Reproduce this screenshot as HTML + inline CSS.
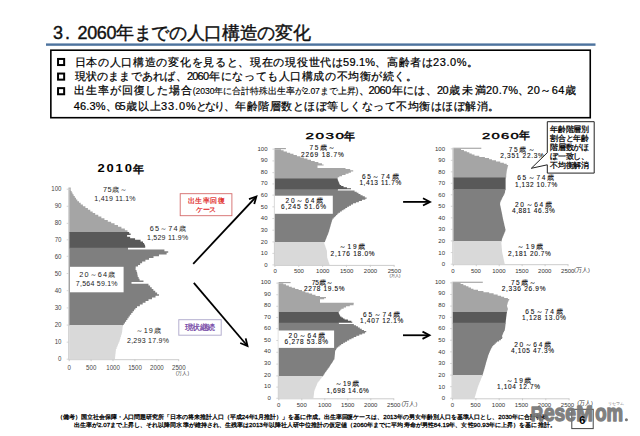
<!DOCTYPE html>
<html><head><meta charset="utf-8"><style>
html,body{margin:0;padding:0;background:#fff;}
body{width:640px;height:436px;overflow:hidden;position:relative;}
svg{position:absolute;left:0;top:0;font-family:"Liberation Sans", sans-serif;}
</style></head><body>
<svg width="640" height="436" viewBox="0 0 640 436">
<path d="M69.20,232.80L127.49,232.80L127.49,231.90L127.49,231.90L127.49,230.19L124.86,230.19L124.86,228.48L121.41,228.48L121.41,226.78L117.96,226.78L117.96,225.07L114.55,225.07L114.55,223.36L111.16,223.36L111.16,221.65L107.78,221.65L107.78,219.95L104.44,219.95L104.44,218.24L101.36,218.24L101.36,216.53L98.27,216.53L98.27,214.82L95.19,214.82L95.19,213.12L92.68,213.12L92.68,211.41L90.28,211.41L90.28,209.70L87.89,209.70L87.89,207.99L85.42,207.99L85.42,206.28L82.88,206.28L82.88,204.58L80.72,204.58L80.72,202.87L79.02,202.87L79.02,201.16L77.31,201.16L77.31,199.45L75.99,199.45L75.99,197.75L74.79,197.75L74.79,196.04L73.59,196.04L73.59,194.33L72.53,194.33L72.53,192.62L71.66,192.62L71.66,190.92L70.79,190.92L70.79,189.21L69.20,189.21Z" fill="#a5a5a5"/>
<path d="M69.20,248.60L128.00,248.60L128.00,247.70L145.23,247.70L145.23,246.12L145.05,246.12L145.05,244.54L144.12,244.54L144.12,242.96L143.03,242.96L143.03,241.38L140.55,241.38L140.55,239.80L135.06,239.80L135.06,238.22L130.15,238.22L130.15,236.64L127.11,236.64L127.11,235.06L130.64,235.06L130.64,233.48L129.17,233.48L129.17,231.90L69.20,231.90Z" fill="#595959"/>
<path d="M69.20,326.00L122.83,326.00L122.83,325.10L123.74,325.10L123.74,323.38L124.96,323.38L124.96,321.66L126.17,321.66L126.17,319.94L127.38,319.94L127.38,318.22L128.60,318.22L128.60,316.50L129.83,316.50L129.83,314.78L131.23,314.78L131.23,313.06L132.62,313.06L132.62,311.34L134.02,311.34L134.02,309.62L135.41,309.62L135.41,307.90L137.03,307.90L137.03,306.18L139.86,306.18L139.86,304.46L142.69,304.46L142.69,302.74L145.53,302.74L145.53,301.02L148.49,301.02L148.49,299.30L151.99,299.30L151.99,297.58L155.50,297.58L155.50,295.86L159.00,295.86L159.00,294.14L157.11,294.14L157.11,292.42L155.22,292.42L155.22,290.70L153.35,290.70L153.35,288.98L151.72,288.98L151.72,287.26L150.09,287.26L150.09,285.54L148.46,285.54L148.46,283.82L131.50,283.82L131.50,282.10L143.47,282.10L143.47,280.38L139.55,280.38L139.55,278.66L138.65,278.66L138.65,276.94L137.74,276.94L137.74,275.22L137.41,275.22L137.41,273.50L137.11,273.50L137.11,271.78L136.46,271.78L136.46,270.06L135.60,270.06L135.60,268.34L135.69,268.34L135.69,266.62L137.99,266.62L137.99,264.90L140.12,264.90L140.12,263.18L142.13,263.18L142.13,261.46L145.40,261.46L145.40,259.74L148.97,259.74L148.97,258.02L153.49,258.02L153.49,256.30L158.99,256.30L158.99,254.58L166.62,254.58L166.62,252.86L168.20,252.86L168.20,251.14L164.42,251.14L164.42,249.42L128.00,249.42L128.00,247.70L69.20,247.70Z" fill="#7f7f7f"/>
<path d="M69.20,359.20L115.00,359.20L115.00,357.50L115.18,357.50L115.18,355.79L115.36,355.79L115.36,354.08L115.54,354.08L115.54,352.38L115.72,352.38L115.72,350.68L115.90,350.68L115.90,348.97L116.59,348.97L116.59,347.26L117.29,347.26L117.29,345.56L118.00,345.56L118.00,343.86L118.70,343.86L118.70,342.15L119.40,342.15L119.40,340.44L119.92,340.44L119.92,338.74L120.44,338.74L120.44,337.04L120.97,337.04L120.97,335.33L121.49,335.33L121.49,333.62L122.00,333.62L122.00,331.92L122.20,331.92L122.20,330.22L122.40,330.22L122.40,328.51L122.60,328.51L122.60,326.81L122.83,326.81L122.83,325.10L69.20,325.10Z" fill="#d9d9d9"/>
<rect x="69.2" y="187.50" width="1.5" height="1.71" fill="#a5a5a5"/>
<line x1="68.70" y1="187.50" x2="68.70" y2="359.70" stroke="#cccccc" stroke-width="1"/>
<line x1="68.70" y1="359.70" x2="178.70" y2="359.70" stroke="#cccccc" stroke-width="1"/>
<line x1="69.20" y1="359.20" x2="69.20" y2="361.20" stroke="#cccccc" stroke-width="1"/>
<line x1="91.10" y1="359.20" x2="91.10" y2="361.20" stroke="#cccccc" stroke-width="1"/>
<line x1="113.00" y1="359.20" x2="113.00" y2="361.20" stroke="#cccccc" stroke-width="1"/>
<line x1="134.90" y1="359.20" x2="134.90" y2="361.20" stroke="#cccccc" stroke-width="1"/>
<line x1="156.80" y1="359.20" x2="156.80" y2="361.20" stroke="#cccccc" stroke-width="1"/>
<line x1="178.70" y1="359.20" x2="178.70" y2="361.20" stroke="#cccccc" stroke-width="1"/>
<line x1="66.70" y1="359.20" x2="68.70" y2="359.20" stroke="#cccccc" stroke-width="0.8"/>
<line x1="66.70" y1="342.15" x2="68.70" y2="342.15" stroke="#cccccc" stroke-width="0.8"/>
<line x1="66.70" y1="325.10" x2="68.70" y2="325.10" stroke="#cccccc" stroke-width="0.8"/>
<line x1="66.70" y1="307.90" x2="68.70" y2="307.90" stroke="#cccccc" stroke-width="0.8"/>
<line x1="66.70" y1="290.70" x2="68.70" y2="290.70" stroke="#cccccc" stroke-width="0.8"/>
<line x1="66.70" y1="273.50" x2="68.70" y2="273.50" stroke="#cccccc" stroke-width="0.8"/>
<line x1="66.70" y1="256.30" x2="68.70" y2="256.30" stroke="#cccccc" stroke-width="0.8"/>
<line x1="66.70" y1="239.80" x2="68.70" y2="239.80" stroke="#cccccc" stroke-width="0.8"/>
<line x1="66.70" y1="223.36" x2="68.70" y2="223.36" stroke="#cccccc" stroke-width="0.8"/>
<line x1="66.70" y1="206.28" x2="68.70" y2="206.28" stroke="#cccccc" stroke-width="0.8"/>
<line x1="66.70" y1="189.21" x2="68.70" y2="189.21" stroke="#cccccc" stroke-width="0.8"/>
<path d="M274.90,179.40L337.47,179.40L337.47,178.50L337.78,178.50L337.78,177.33L339.35,177.33L339.35,176.15L342.05,176.15L342.05,174.98L345.57,174.98L345.57,173.81L348.55,173.81L348.55,172.63L350.88,172.63L350.88,171.46L353.20,171.46L353.20,170.29L350.18,170.29L350.18,169.12L345.51,169.12L345.51,167.94L317.50,167.94L317.50,166.77L317.50,166.77L317.50,165.60L323.61,165.60L323.61,164.42L321.96,164.42L321.96,163.25L318.37,163.25L318.37,162.08L314.68,162.08L314.68,160.90L311.00,160.90L311.00,159.73L307.43,159.73L307.43,158.56L303.91,158.56L303.91,157.38L300.39,157.38L300.39,156.21L296.88,156.21L296.88,155.04L293.47,155.04L293.47,153.87L290.18,153.87L290.18,152.69L286.90,152.69L286.90,151.52L283.61,151.52L283.61,150.35L281.00,150.35L281.00,149.17L274.90,149.17Z" fill="#a5a5a5"/>
<path d="M274.90,190.20L337.80,190.20L337.80,189.30L351.00,189.30L351.00,188.22L346.95,188.22L346.95,187.14L343.52,187.14L343.52,186.06L341.14,186.06L341.14,184.98L339.76,184.98L339.76,183.90L339.30,183.90L339.30,182.82L338.84,182.82L338.84,181.74L338.38,181.74L338.38,180.66L337.93,180.66L337.93,179.58L337.47,179.58L337.47,178.50L274.90,178.50Z" fill="#595959"/>
<path d="M274.90,242.80L324.11,242.80L324.11,241.90L325.05,241.90L325.05,240.73L325.51,240.73L325.51,239.56L325.98,239.56L325.98,238.39L326.44,238.39L326.44,237.22L326.91,237.22L326.91,236.06L327.37,236.06L327.37,234.89L327.84,234.89L327.84,233.72L328.30,233.72L328.30,232.55L328.75,232.55L328.75,231.38L329.09,231.38L329.09,230.21L329.43,230.21L329.43,229.04L329.76,229.04L329.76,227.87L330.10,227.87L330.10,226.70L330.44,226.70L330.44,225.54L330.78,225.54L330.78,224.37L331.12,224.37L331.12,223.20L331.45,223.20L331.45,222.03L331.79,222.03L331.79,220.86L332.13,220.86L332.13,219.69L332.63,219.69L332.63,218.52L333.79,218.52L333.79,217.35L334.95,217.35L334.95,216.18L336.12,216.18L336.12,215.02L337.28,215.02L337.28,213.85L338.44,213.85L338.44,212.68L340.06,212.68L340.06,211.51L341.81,211.51L341.81,210.34L343.57,210.34L343.57,209.17L345.32,209.17L345.32,208.00L347.16,208.00L347.16,206.83L349.09,206.83L349.09,205.66L351.02,205.66L351.02,204.50L353.02,204.50L353.02,203.33L355.94,203.33L355.94,202.16L358.87,202.16L358.87,200.99L361.97,200.99L361.97,199.82L365.24,199.82L365.24,198.65L366.64,198.65L366.64,197.48L364.81,197.48L364.81,196.31L362.63,196.31L362.63,195.14L360.45,195.14L360.45,193.98L358.47,193.98L358.47,192.81L356.70,192.81L356.70,191.64L354.58,191.64L354.58,190.47L337.80,190.47L337.80,189.30L274.90,189.30Z" fill="#7f7f7f"/>
<path d="M274.90,264.90L329.47,264.90L329.47,263.75L329.08,263.75L329.08,262.60L328.68,262.60L328.68,261.45L328.28,261.45L328.28,260.30L327.89,260.30L327.89,259.15L327.49,259.15L327.49,258.00L327.19,258.00L327.19,256.85L327.14,256.85L327.14,255.70L327.09,255.70L327.09,254.55L327.04,254.55L327.04,253.40L326.99,253.40L326.99,252.25L326.94,252.25L326.94,251.10L326.82,251.10L326.82,249.95L326.41,249.95L326.41,248.80L326.00,248.80L326.00,247.65L325.59,247.65L325.59,246.50L325.18,246.50L325.18,245.35L324.77,245.35L324.77,244.20L324.37,244.20L324.37,243.05L324.11,243.05L324.11,241.90L274.90,241.90Z" fill="#d9d9d9"/>
<rect x="274.9" y="148.00" width="11" height="1.17" fill="#a5a5a5"/>
<line x1="274.40" y1="148.00" x2="274.40" y2="265.40" stroke="#cccccc" stroke-width="1"/>
<line x1="274.40" y1="265.40" x2="394.15" y2="265.40" stroke="#cccccc" stroke-width="1"/>
<line x1="274.90" y1="264.90" x2="274.90" y2="266.90" stroke="#cccccc" stroke-width="1"/>
<line x1="298.75" y1="264.90" x2="298.75" y2="266.90" stroke="#cccccc" stroke-width="1"/>
<line x1="322.60" y1="264.90" x2="322.60" y2="266.90" stroke="#cccccc" stroke-width="1"/>
<line x1="346.45" y1="264.90" x2="346.45" y2="266.90" stroke="#cccccc" stroke-width="1"/>
<line x1="370.30" y1="264.90" x2="370.30" y2="266.90" stroke="#cccccc" stroke-width="1"/>
<line x1="394.15" y1="264.90" x2="394.15" y2="266.90" stroke="#cccccc" stroke-width="1"/>
<line x1="272.40" y1="264.90" x2="274.40" y2="264.90" stroke="#cccccc" stroke-width="0.8"/>
<line x1="272.40" y1="253.40" x2="274.40" y2="253.40" stroke="#cccccc" stroke-width="0.8"/>
<line x1="272.40" y1="241.90" x2="274.40" y2="241.90" stroke="#cccccc" stroke-width="0.8"/>
<line x1="272.40" y1="230.21" x2="274.40" y2="230.21" stroke="#cccccc" stroke-width="0.8"/>
<line x1="272.40" y1="218.52" x2="274.40" y2="218.52" stroke="#cccccc" stroke-width="0.8"/>
<line x1="272.40" y1="206.83" x2="274.40" y2="206.83" stroke="#cccccc" stroke-width="0.8"/>
<line x1="272.40" y1="195.14" x2="274.40" y2="195.14" stroke="#cccccc" stroke-width="0.8"/>
<line x1="272.40" y1="183.90" x2="274.40" y2="183.90" stroke="#cccccc" stroke-width="0.8"/>
<line x1="272.40" y1="172.63" x2="274.40" y2="172.63" stroke="#cccccc" stroke-width="0.8"/>
<line x1="272.40" y1="160.90" x2="274.40" y2="160.90" stroke="#cccccc" stroke-width="0.8"/>
<line x1="272.40" y1="149.17" x2="274.40" y2="149.17" stroke="#cccccc" stroke-width="0.8"/>
<path d="M278.80,313.00L338.52,313.00L338.52,312.10L339.30,312.10L339.30,310.94L340.23,310.94L340.23,309.78L341.39,309.78L341.39,308.63L343.70,308.63L343.70,307.47L346.03,307.47L346.03,306.31L349.80,306.31L349.80,305.15L353.57,305.15L353.57,304.00L353.72,304.00L353.72,302.84L320.00,302.84L320.00,301.68L320.00,301.68L320.00,300.52L320.00,300.52L320.00,299.37L324.13,299.37L324.13,298.21L326.00,298.21L326.00,297.05L320.00,297.05L320.00,295.89L315.50,295.89L315.50,294.73L312.12,294.73L312.12,293.58L308.74,293.58L308.74,292.42L305.37,292.42L305.37,291.26L301.99,291.26L301.99,290.10L298.57,290.10L298.57,288.95L295.10,288.95L295.10,287.79L291.77,287.79L291.77,286.63L288.88,286.63L288.88,285.47L285.99,285.47L285.99,284.32L283.32,284.32L283.32,283.16L278.80,283.16Z" fill="#a5a5a5"/>
<path d="M278.80,323.70L338.70,323.70L338.70,322.80L352.30,322.80L352.30,321.73L351.34,321.73L351.34,320.66L347.95,320.66L347.95,319.59L344.57,319.59L344.57,318.52L342.98,318.52L342.98,317.45L341.48,317.45L341.48,316.38L340.12,316.38L340.12,315.31L339.59,315.31L339.59,314.24L339.05,314.24L339.05,313.17L338.52,313.17L338.52,312.10L278.80,312.10Z" fill="#595959"/>
<path d="M278.80,376.80L322.55,376.80L322.55,375.90L323.41,375.90L323.41,374.72L324.23,374.72L324.23,373.54L325.05,373.54L325.05,372.36L325.87,372.36L325.87,371.18L326.70,371.18L326.70,370.00L327.53,370.00L327.53,368.82L328.36,368.82L328.36,367.64L329.19,367.64L329.19,366.46L330.01,366.46L330.01,365.28L330.80,365.28L330.80,364.10L331.54,364.10L331.54,362.92L332.28,362.92L332.28,361.74L333.02,361.74L333.02,360.56L333.76,360.56L333.76,359.38L334.42,359.38L334.42,358.20L334.53,358.20L334.53,357.02L334.65,357.02L334.65,355.84L334.77,355.84L334.77,354.66L334.88,354.66L334.88,353.48L335.00,353.48L335.00,352.30L335.12,352.30L335.12,351.12L335.40,351.12L335.40,349.94L336.10,349.94L336.10,348.76L336.80,348.76L336.80,347.58L338.15,347.58L338.15,346.40L339.60,346.40L339.60,345.22L341.21,345.22L341.21,344.04L343.16,344.04L343.16,342.86L345.10,342.86L345.10,341.68L347.05,341.68L347.05,340.50L349.24,340.50L349.24,339.32L351.46,339.32L351.46,338.14L353.67,338.14L353.67,336.96L356.27,336.96L356.27,335.78L359.23,335.78L359.23,334.60L362.18,334.60L362.18,333.42L364.95,333.42L364.95,332.24L366.23,332.24L366.23,331.06L363.99,331.06L363.99,329.88L361.75,329.88L361.75,328.70L359.81,328.70L359.81,327.52L357.96,327.52L357.96,326.34L356.04,326.34L356.04,325.16L353.85,325.16L353.85,323.98L338.70,323.98L338.70,322.80L278.80,322.80Z" fill="#7f7f7f"/>
<path d="M278.80,398.30L313.50,398.30L313.50,397.18L313.62,397.18L313.62,396.06L313.75,396.06L313.75,394.94L313.89,394.94L313.89,393.82L314.03,393.82L314.03,392.70L314.16,392.70L314.16,391.58L314.30,391.58L314.30,390.46L314.74,390.46L314.74,389.34L315.19,389.34L315.19,388.22L315.64,388.22L315.64,387.10L316.09,387.10L316.09,385.98L316.54,385.98L316.54,384.86L316.99,384.86L316.99,383.74L317.44,383.74L317.44,382.62L318.24,382.62L318.24,381.50L319.10,381.50L319.10,380.38L319.96,380.38L319.96,379.26L320.83,379.26L320.83,378.14L321.69,378.14L321.69,377.02L322.55,377.02L322.55,375.90L278.80,375.90Z" fill="#d9d9d9"/>
<rect x="278.8" y="282.00" width="11.8" height="1.16" fill="#a5a5a5"/>
<line x1="278.30" y1="282.00" x2="278.30" y2="398.80" stroke="#cccccc" stroke-width="1"/>
<line x1="278.30" y1="398.80" x2="393.80" y2="398.80" stroke="#cccccc" stroke-width="1"/>
<line x1="278.80" y1="398.30" x2="278.80" y2="400.30" stroke="#cccccc" stroke-width="1"/>
<line x1="301.80" y1="398.30" x2="301.80" y2="400.30" stroke="#cccccc" stroke-width="1"/>
<line x1="324.80" y1="398.30" x2="324.80" y2="400.30" stroke="#cccccc" stroke-width="1"/>
<line x1="347.80" y1="398.30" x2="347.80" y2="400.30" stroke="#cccccc" stroke-width="1"/>
<line x1="370.80" y1="398.30" x2="370.80" y2="400.30" stroke="#cccccc" stroke-width="1"/>
<line x1="393.80" y1="398.30" x2="393.80" y2="400.30" stroke="#cccccc" stroke-width="1"/>
<line x1="276.30" y1="398.30" x2="278.30" y2="398.30" stroke="#cccccc" stroke-width="0.8"/>
<line x1="276.30" y1="387.10" x2="278.30" y2="387.10" stroke="#cccccc" stroke-width="0.8"/>
<line x1="276.30" y1="375.90" x2="278.30" y2="375.90" stroke="#cccccc" stroke-width="0.8"/>
<line x1="276.30" y1="364.10" x2="278.30" y2="364.10" stroke="#cccccc" stroke-width="0.8"/>
<line x1="276.30" y1="352.30" x2="278.30" y2="352.30" stroke="#cccccc" stroke-width="0.8"/>
<line x1="276.30" y1="340.50" x2="278.30" y2="340.50" stroke="#cccccc" stroke-width="0.8"/>
<line x1="276.30" y1="328.70" x2="278.30" y2="328.70" stroke="#cccccc" stroke-width="0.8"/>
<line x1="276.30" y1="317.45" x2="278.30" y2="317.45" stroke="#cccccc" stroke-width="0.8"/>
<line x1="276.30" y1="306.31" x2="278.30" y2="306.31" stroke="#cccccc" stroke-width="0.8"/>
<line x1="276.30" y1="294.73" x2="278.30" y2="294.73" stroke="#cccccc" stroke-width="0.8"/>
<line x1="276.30" y1="283.16" x2="278.30" y2="283.16" stroke="#cccccc" stroke-width="0.8"/>
<path d="M453.30,178.50L505.60,178.50L505.60,177.60L506.25,177.60L506.25,176.45L506.25,176.45L506.25,175.30L506.29,175.30L506.29,174.15L506.44,174.15L506.44,173.00L506.58,173.00L506.58,171.85L506.73,171.85L506.73,170.70L506.88,170.70L506.88,169.55L507.17,169.55L507.17,168.40L507.48,168.40L507.48,167.25L507.79,167.25L507.79,166.10L508.09,166.10L508.09,164.95L506.71,164.95L506.71,163.80L503.83,163.80L503.83,162.65L500.23,162.65L500.23,161.50L495.97,161.50L495.97,160.35L491.94,160.35L491.94,159.20L489.06,159.20L489.06,158.05L484.87,158.05L484.87,156.90L479.27,156.90L479.27,155.75L474.48,155.75L474.48,154.60L471.72,154.60L471.72,153.45L469.32,153.45L469.32,152.30L466.81,152.30L466.81,151.15L463.94,151.15L463.94,150.00L461.06,150.00L461.06,148.85L453.30,148.85Z" fill="#a5a5a5"/>
<path d="M453.30,189.90L505.41,189.90L505.41,189.00L505.60,189.00L505.60,187.86L505.60,187.86L505.60,186.72L505.60,186.72L505.60,185.58L505.60,185.58L505.60,184.44L505.60,184.44L505.60,183.30L505.60,183.30L505.60,182.16L505.60,182.16L505.60,181.02L505.60,181.02L505.60,179.88L505.60,179.88L505.60,178.74L505.60,178.74L505.60,177.60L453.30,177.60Z" fill="#595959"/>
<path d="M453.30,241.80L501.40,241.80L501.40,240.90L501.69,240.90L501.69,239.75L501.99,239.75L501.99,238.59L502.39,238.59L502.39,237.44L502.86,237.44L502.86,236.29L503.33,236.29L503.33,235.13L503.80,235.13L503.80,233.98L504.27,233.98L504.27,232.83L504.74,232.83L504.74,231.67L505.21,231.67L505.21,230.52L505.55,230.52L505.55,229.37L505.29,229.37L505.29,228.21L505.02,228.21L505.02,227.06L504.75,227.06L504.75,225.91L504.49,225.91L504.49,224.75L504.22,224.75L504.22,223.60L503.96,223.60L503.96,222.45L503.69,222.45L503.69,221.29L503.42,221.29L503.42,220.14L503.16,220.14L503.16,218.99L502.90,218.99L502.90,217.83L502.68,217.83L502.68,216.68L502.45,216.68L502.45,215.53L502.22,215.53L502.22,214.37L501.99,214.37L501.99,213.22L501.76,213.22L501.76,212.07L501.53,212.07L501.53,210.91L501.31,210.91L501.31,209.76L501.06,209.76L501.06,208.61L500.82,208.61L500.82,207.45L500.57,207.45L500.57,206.30L500.33,206.30L500.33,205.15L500.09,205.15L500.09,203.99L500.12,203.99L500.12,202.84L500.31,202.84L500.31,201.69L500.71,201.69L500.71,200.53L501.30,200.53L501.30,199.38L501.88,199.38L501.88,198.23L502.47,198.23L502.47,197.07L503.06,197.07L503.06,195.92L503.66,195.92L503.66,194.77L504.26,194.77L504.26,193.61L504.82,193.61L504.82,192.46L505.02,192.46L505.02,191.31L505.22,191.31L505.22,190.15L505.41,190.15L505.41,189.00L453.30,189.00Z" fill="#7f7f7f"/>
<path d="M453.30,264.20L504.64,264.20L504.64,263.03L504.39,263.03L504.39,261.87L504.14,261.87L504.14,260.70L503.89,260.70L503.89,259.54L503.64,259.54L503.64,258.38L503.40,258.38L503.40,257.21L503.15,257.21L503.15,256.05L502.90,256.05L502.90,254.88L502.65,254.88L502.65,253.72L502.40,253.72L502.40,252.55L502.15,252.55L502.15,251.38L502.03,251.38L502.03,250.22L501.93,250.22L501.93,249.06L501.84,249.06L501.84,247.89L501.74,247.89L501.74,246.72L501.65,246.72L501.65,245.56L501.55,245.56L501.55,244.40L501.46,244.40L501.46,243.23L501.36,243.23L501.36,242.06L501.40,242.06L501.40,240.90L453.30,240.90Z" fill="#d9d9d9"/>
<rect x="453.3" y="147.70" width="28" height="1.15" fill="#a5a5a5"/>
<line x1="452.80" y1="147.70" x2="452.80" y2="264.70" stroke="#cccccc" stroke-width="1"/>
<line x1="452.80" y1="264.70" x2="568.05" y2="264.70" stroke="#cccccc" stroke-width="1"/>
<line x1="453.30" y1="264.20" x2="453.30" y2="266.20" stroke="#cccccc" stroke-width="1"/>
<line x1="476.25" y1="264.20" x2="476.25" y2="266.20" stroke="#cccccc" stroke-width="1"/>
<line x1="499.20" y1="264.20" x2="499.20" y2="266.20" stroke="#cccccc" stroke-width="1"/>
<line x1="522.15" y1="264.20" x2="522.15" y2="266.20" stroke="#cccccc" stroke-width="1"/>
<line x1="545.10" y1="264.20" x2="545.10" y2="266.20" stroke="#cccccc" stroke-width="1"/>
<line x1="568.05" y1="264.20" x2="568.05" y2="266.20" stroke="#cccccc" stroke-width="1"/>
<line x1="450.80" y1="264.20" x2="452.80" y2="264.20" stroke="#cccccc" stroke-width="0.8"/>
<line x1="450.80" y1="252.55" x2="452.80" y2="252.55" stroke="#cccccc" stroke-width="0.8"/>
<line x1="450.80" y1="240.90" x2="452.80" y2="240.90" stroke="#cccccc" stroke-width="0.8"/>
<line x1="450.80" y1="229.37" x2="452.80" y2="229.37" stroke="#cccccc" stroke-width="0.8"/>
<line x1="450.80" y1="217.83" x2="452.80" y2="217.83" stroke="#cccccc" stroke-width="0.8"/>
<line x1="450.80" y1="206.30" x2="452.80" y2="206.30" stroke="#cccccc" stroke-width="0.8"/>
<line x1="450.80" y1="194.77" x2="452.80" y2="194.77" stroke="#cccccc" stroke-width="0.8"/>
<line x1="450.80" y1="183.30" x2="452.80" y2="183.30" stroke="#cccccc" stroke-width="0.8"/>
<line x1="450.80" y1="171.85" x2="452.80" y2="171.85" stroke="#cccccc" stroke-width="0.8"/>
<line x1="450.80" y1="160.35" x2="452.80" y2="160.35" stroke="#cccccc" stroke-width="0.8"/>
<line x1="450.80" y1="148.85" x2="452.80" y2="148.85" stroke="#cccccc" stroke-width="0.8"/>
<path d="M452.60,312.80L506.83,312.80L506.83,311.90L507.12,311.90L507.12,310.74L507.56,310.74L507.56,309.58L508.00,309.58L508.00,308.42L507.57,308.42L507.57,307.25L507.15,307.25L507.15,306.09L507.03,306.09L507.03,304.93L507.35,304.93L507.35,303.77L507.67,303.77L507.67,302.61L507.99,302.61L507.99,301.45L508.61,301.45L508.61,300.28L509.22,300.28L509.22,299.12L507.86,299.12L507.86,297.96L504.17,297.96L504.17,296.80L501.10,296.80L501.10,295.64L497.66,295.64L497.66,294.48L493.62,294.48L493.62,293.32L489.19,293.32L489.19,292.15L483.44,292.15L483.44,290.99L478.01,290.99L478.01,289.83L473.46,289.83L473.46,288.67L470.95,288.67L470.95,287.51L468.44,287.51L468.44,286.35L465.88,286.35L465.88,285.18L463.33,285.18L463.33,284.02L460.61,284.02L460.61,282.86L452.60,282.86Z" fill="#a5a5a5"/>
<path d="M452.60,323.70L505.50,323.70L505.50,322.80L505.62,322.80L505.62,321.71L505.75,321.71L505.75,320.62L505.89,320.62L505.89,319.53L506.02,319.53L506.02,318.44L506.16,318.44L506.16,317.35L506.29,317.35L506.29,316.26L506.43,316.26L506.43,315.17L506.56,315.17L506.56,314.08L506.70,314.08L506.70,312.99L506.83,312.99L506.83,311.90L452.60,311.90Z" fill="#595959"/>
<path d="M452.60,376.00L482.36,376.00L482.36,375.10L482.69,375.10L482.69,373.94L483.06,373.94L483.06,372.78L483.42,372.78L483.42,371.61L483.78,371.61L483.78,370.45L484.14,370.45L484.14,369.29L484.46,369.29L484.46,368.13L484.77,368.13L484.77,366.96L485.09,366.96L485.09,365.80L485.41,365.80L485.41,364.64L485.73,364.64L485.73,363.48L486.05,363.48L486.05,362.32L486.38,362.32L486.38,361.15L486.73,361.15L486.73,359.99L487.08,359.99L487.08,358.83L487.43,358.83L487.43,357.67L487.77,357.67L487.77,356.50L488.12,356.50L488.12,355.34L488.50,355.34L488.50,354.18L488.99,354.18L488.99,353.02L489.48,353.02L489.48,351.86L489.96,351.86L489.96,350.69L490.45,350.69L490.45,349.53L491.08,349.53L491.08,348.37L491.72,348.37L491.72,347.21L492.36,347.21L492.36,346.04L493.28,346.04L493.28,344.88L494.53,344.88L494.53,343.72L495.78,343.72L495.78,342.56L497.04,342.56L497.04,341.40L499.07,341.40L499.07,340.23L500.87,340.23L500.87,339.07L502.09,339.07L502.09,337.91L502.40,337.91L502.40,336.75L502.05,336.75L502.05,335.58L502.43,335.58L502.43,334.42L502.94,334.42L502.94,333.26L503.46,333.26L503.46,332.10L504.04,332.10L504.04,330.94L504.62,330.94L504.62,329.77L504.91,329.77L504.91,328.61L505.08,328.61L505.08,327.45L505.24,327.45L505.24,326.29L505.40,326.29L505.40,325.12L505.50,325.12L505.50,323.96L505.50,323.96L505.50,322.80L452.60,322.80Z" fill="#7f7f7f"/>
<path d="M452.60,398.30L474.68,398.30L474.68,397.14L475.03,397.14L475.03,395.98L475.38,395.98L475.38,394.82L475.72,394.82L475.72,393.66L476.07,393.66L476.07,392.50L476.41,392.50L476.41,391.34L476.76,391.34L476.76,390.18L477.11,390.18L477.11,389.02L477.45,389.02L477.45,387.86L477.80,387.86L477.80,386.70L478.19,386.70L478.19,385.54L478.66,385.54L478.66,384.38L479.13,384.38L479.13,383.22L479.59,383.22L479.59,382.06L480.06,382.06L480.06,380.90L480.52,380.90L480.52,379.74L480.99,379.74L480.99,378.58L481.46,378.58L481.46,377.42L481.92,377.42L481.92,376.26L482.36,376.26L482.36,375.10L452.60,375.10Z" fill="#d9d9d9"/>
<rect x="452.6" y="281.70" width="30.2" height="1.16" fill="#a5a5a5"/>
<line x1="452.10" y1="281.70" x2="452.10" y2="398.80" stroke="#cccccc" stroke-width="1"/>
<line x1="452.10" y1="398.80" x2="569.10" y2="398.80" stroke="#cccccc" stroke-width="1"/>
<line x1="452.60" y1="398.30" x2="452.60" y2="400.30" stroke="#cccccc" stroke-width="1"/>
<line x1="475.90" y1="398.30" x2="475.90" y2="400.30" stroke="#cccccc" stroke-width="1"/>
<line x1="499.20" y1="398.30" x2="499.20" y2="400.30" stroke="#cccccc" stroke-width="1"/>
<line x1="522.50" y1="398.30" x2="522.50" y2="400.30" stroke="#cccccc" stroke-width="1"/>
<line x1="545.80" y1="398.30" x2="545.80" y2="400.30" stroke="#cccccc" stroke-width="1"/>
<line x1="569.10" y1="398.30" x2="569.10" y2="400.30" stroke="#cccccc" stroke-width="1"/>
<line x1="450.10" y1="398.30" x2="452.10" y2="398.30" stroke="#cccccc" stroke-width="0.8"/>
<line x1="450.10" y1="386.70" x2="452.10" y2="386.70" stroke="#cccccc" stroke-width="0.8"/>
<line x1="450.10" y1="375.10" x2="452.10" y2="375.10" stroke="#cccccc" stroke-width="0.8"/>
<line x1="450.10" y1="363.48" x2="452.10" y2="363.48" stroke="#cccccc" stroke-width="0.8"/>
<line x1="450.10" y1="351.86" x2="452.10" y2="351.86" stroke="#cccccc" stroke-width="0.8"/>
<line x1="450.10" y1="340.23" x2="452.10" y2="340.23" stroke="#cccccc" stroke-width="0.8"/>
<line x1="450.10" y1="328.61" x2="452.10" y2="328.61" stroke="#cccccc" stroke-width="0.8"/>
<line x1="450.10" y1="317.35" x2="452.10" y2="317.35" stroke="#cccccc" stroke-width="0.8"/>
<line x1="450.10" y1="306.09" x2="452.10" y2="306.09" stroke="#cccccc" stroke-width="0.8"/>
<line x1="450.10" y1="294.48" x2="452.10" y2="294.48" stroke="#cccccc" stroke-width="0.8"/>
<line x1="450.10" y1="282.86" x2="452.10" y2="282.86" stroke="#cccccc" stroke-width="0.8"/>
<rect x="46" y="43.4" width="549.5" height="2.4" fill="#4d739e"/>
<rect x="50.85" y="50.2" width="539.4" height="67.5" fill="none" stroke="#000" stroke-width="1.6"/>
<rect x="58.05" y="58.95" width="6.1" height="6.1" fill="none" stroke="#000" stroke-width="2"/>
<rect x="58.05" y="73.55" width="6.1" height="6.1" fill="none" stroke="#000" stroke-width="2"/>
<rect x="58.05" y="88.15" width="6.1" height="6.1" fill="none" stroke="#000" stroke-width="2"/>
<text x="53.00" y="38.98" font-size="18" font-weight="normal" fill="#111" textLength="17.00" lengthAdjust="spacing" stroke="#111" stroke-width="0.4">3.</text>
<text x="77.50" y="38.98" font-size="18" font-weight="normal" fill="#111" textLength="233.00" lengthAdjust="spacing" stroke="#111" stroke-width="0.4">2060年までの人口構造の変化</text>
<text x="74.50" y="65.56" font-size="11" font-weight="normal" fill="#000" textLength="268.50" lengthAdjust="spacing" stroke="#000" stroke-width="0.22">日本の人口構造の変化を見ると、現在の現役世代は</text>
<text x="343.10" y="65.56" font-size="11" font-weight="normal" fill="#000" textLength="31.90" lengthAdjust="spacing" stroke="#000" stroke-width="0.22">59.1%</text>
<text x="375.00" y="65.56" font-size="11" font-weight="normal" fill="#000" textLength="58.00" lengthAdjust="spacing" stroke="#000" stroke-width="0.22">、高齢者は</text>
<text x="433.10" y="65.56" font-size="11" font-weight="normal" fill="#000" textLength="33.50" lengthAdjust="spacing" stroke="#000" stroke-width="0.22">23.0%</text>
<text x="466.60" y="65.56" font-size="11" font-weight="normal" fill="#000" stroke="#000" stroke-width="0.22">。</text>
<text x="74.50" y="80.06" font-size="11" font-weight="normal" fill="#000" textLength="112.00" lengthAdjust="spacing" stroke="#000" stroke-width="0.22">現状のままであれば、</text>
<text x="186.90" y="80.06" font-size="11" font-weight="normal" fill="#000" textLength="22.10" lengthAdjust="spacing" stroke="#000" stroke-width="0.22">2060</text>
<text x="209.20" y="80.06" font-size="11" font-weight="normal" fill="#000" textLength="207.80" lengthAdjust="spacing" stroke="#000" stroke-width="0.22">年になっても人口構成の不均衡が続く。</text>
<text x="73.75" y="94.46" font-size="11" font-weight="normal" fill="#000" textLength="118.55" lengthAdjust="spacing" stroke="#000" stroke-width="0.22">出生率が回復した場合</text>
<text x="358.50" y="94.46" font-size="11" font-weight="normal" fill="#000" stroke="#000" stroke-width="0.22">、</text>
<text x="368.40" y="94.46" font-size="11" font-weight="normal" fill="#000" textLength="22.90" lengthAdjust="spacing" stroke="#000" stroke-width="0.22">2060</text>
<text x="391.50" y="94.46" font-size="11" font-weight="normal" fill="#000" textLength="45.00" lengthAdjust="spacing" stroke="#000" stroke-width="0.22">年には、</text>
<text x="437.00" y="94.46" font-size="11" font-weight="normal" fill="#000" textLength="11.60" lengthAdjust="spacing" stroke="#000" stroke-width="0.22">20</text>
<text x="448.80" y="94.46" font-size="11" font-weight="normal" fill="#000" textLength="36.90" lengthAdjust="spacing" stroke="#000" stroke-width="0.22">歳未満</text>
<text x="486.00" y="94.46" font-size="11" font-weight="normal" fill="#000" textLength="32.00" lengthAdjust="spacing" stroke="#000" stroke-width="0.22">20.7%</text>
<text x="518.00" y="94.46" font-size="11" font-weight="normal" fill="#000" stroke="#000" stroke-width="0.22">、</text>
<text x="527.20" y="94.46" font-size="11" font-weight="normal" fill="#000" textLength="37.10" lengthAdjust="spacing" stroke="#000" stroke-width="0.22">20～64</text>
<text x="564.50" y="94.46" font-size="11" font-weight="normal" fill="#000" stroke="#000" stroke-width="0.22">歳</text>
<text x="73.75" y="109.56" font-size="11" font-weight="normal" fill="#000" textLength="31.75" lengthAdjust="spacing" stroke="#000" stroke-width="0.22">46.3%</text>
<text x="105.50" y="109.56" font-size="11" font-weight="normal" fill="#000" stroke="#000" stroke-width="0.22">、</text>
<text x="114.80" y="109.56" font-size="11" font-weight="normal" fill="#000" textLength="10.70" lengthAdjust="spacing" stroke="#000" stroke-width="0.22">65</text>
<text x="125.60" y="109.56" font-size="11" font-weight="normal" fill="#000" textLength="35.10" lengthAdjust="spacing" stroke="#000" stroke-width="0.22">歳以上</text>
<text x="160.90" y="109.56" font-size="11" font-weight="normal" fill="#000" textLength="34.80" lengthAdjust="spacing" stroke="#000" stroke-width="0.22">33.0%</text>
<text x="195.80" y="109.56" font-size="11" font-weight="normal" fill="#000" textLength="39.00" lengthAdjust="spacing" stroke="#000" stroke-width="0.22">となり、</text>
<text x="235.00" y="109.56" font-size="11" font-weight="normal" fill="#000" textLength="264.00" lengthAdjust="spacing" stroke="#000" stroke-width="0.22">年齢階層数とほぼ等しくなって不均衡はほぼ解消。</text>
<text x="192.80" y="93.50" font-size="8.6" font-weight="normal" fill="#000" textLength="165.50" lengthAdjust="spacing" stroke="#000" stroke-width="0.12">(2030年に合計特殊出生率が2.07まで上昇)</text>
<text x="56.90" y="419.43" font-size="6.2" font-weight="normal" fill="#000" textLength="490.90" lengthAdjust="spacing" stroke="#000" stroke-width="0.28">（備考）国立社会保障・人口問題研究所「日本の将来推計人口（平成24年1月推計）」を基に作成。出生率回復ケースは、2013年の男女年齢別人口を基準人口とし、2030年に合計特殊</text>
<text x="73.75" y="427.43" font-size="6.2" font-weight="normal" fill="#000" textLength="481.85" lengthAdjust="spacing" stroke="#000" stroke-width="0.28">出生率が2.07まで上昇し、それ以降同水準が維持され、生残率は2013年以降社人研中位推計の仮定値（2060年までに平均寿命が男性84.19年、女性90.93年に上昇）を基に推計。</text>
<text transform="translate(97.48,172.33) scale(1.238,1)" x="0" y="0" font-size="10.5" font-weight="bold" fill="#000" stroke="#000" stroke-width="0">2</text>
<text transform="translate(106.55,172.33) scale(1.238,1)" x="0" y="0" font-size="10.5" font-weight="bold" fill="#000" stroke="#000" stroke-width="0">0</text>
<text transform="translate(115.61,172.33) scale(1.238,1)" x="0" y="0" font-size="10.5" font-weight="bold" fill="#000" stroke="#000" stroke-width="0">1</text>
<text transform="translate(124.68,172.33) scale(1.238,1)" x="0" y="0" font-size="10.5" font-weight="bold" fill="#000" stroke="#000" stroke-width="0">0</text>
<text x="132.90" y="172.59" font-size="10.8" font-weight="normal" fill="#000" stroke="#000" stroke-width="0.5">年</text>
<text transform="translate(305.49,139.02) scale(1.810,1)" x="0" y="0" font-size="8.4" font-weight="normal" fill="#000" stroke="#000" stroke-width="0.35">2</text>
<text transform="translate(315.46,139.02) scale(1.810,1)" x="0" y="0" font-size="8.4" font-weight="normal" fill="#000" stroke="#000" stroke-width="0.35">0</text>
<text transform="translate(325.43,139.02) scale(1.810,1)" x="0" y="0" font-size="8.4" font-weight="normal" fill="#000" stroke="#000" stroke-width="0.35">3</text>
<text transform="translate(335.39,139.02) scale(1.810,1)" x="0" y="0" font-size="8.4" font-weight="normal" fill="#000" stroke="#000" stroke-width="0.35">0</text>
<text x="344.40" y="139.78" font-size="10.5" font-weight="normal" fill="#000" stroke="#000" stroke-width="0.45">年</text>
<text transform="translate(481.91,138.62) scale(1.762,1)" x="0" y="0" font-size="8.4" font-weight="normal" fill="#000" stroke="#000" stroke-width="0.35">2</text>
<text transform="translate(491.41,138.62) scale(1.762,1)" x="0" y="0" font-size="8.4" font-weight="normal" fill="#000" stroke="#000" stroke-width="0.35">0</text>
<text transform="translate(500.91,138.62) scale(1.762,1)" x="0" y="0" font-size="8.4" font-weight="normal" fill="#000" stroke="#000" stroke-width="0.35">6</text>
<text transform="translate(510.41,138.62) scale(1.762,1)" x="0" y="0" font-size="8.4" font-weight="normal" fill="#000" stroke="#000" stroke-width="0.35">0</text>
<text x="519.00" y="139.38" font-size="10.5" font-weight="normal" fill="#000" stroke="#000" stroke-width="0.45">年</text>
<text x="58.10" y="360.82" font-size="7" fill="#444" textLength="3.40" lengthAdjust="spacingAndGlyphs">0</text>
<text x="54.70" y="343.82" font-size="7" fill="#444" textLength="6.80" lengthAdjust="spacingAndGlyphs">10</text>
<text x="54.70" y="326.82" font-size="7" fill="#444" textLength="6.80" lengthAdjust="spacingAndGlyphs">20</text>
<text x="54.70" y="309.82" font-size="7" fill="#444" textLength="6.80" lengthAdjust="spacingAndGlyphs">30</text>
<text x="54.70" y="292.82" font-size="7" fill="#444" textLength="6.80" lengthAdjust="spacingAndGlyphs">40</text>
<text x="54.70" y="275.82" font-size="7" fill="#444" textLength="6.80" lengthAdjust="spacingAndGlyphs">50</text>
<text x="54.70" y="258.82" font-size="7" fill="#444" textLength="6.80" lengthAdjust="spacingAndGlyphs">60</text>
<text x="54.70" y="241.82" font-size="7" fill="#444" textLength="6.80" lengthAdjust="spacingAndGlyphs">70</text>
<text x="54.70" y="224.82" font-size="7" fill="#444" textLength="6.80" lengthAdjust="spacingAndGlyphs">80</text>
<text x="54.70" y="207.82" font-size="7" fill="#444" textLength="6.80" lengthAdjust="spacingAndGlyphs">90</text>
<text x="51.30" y="190.82" font-size="7" fill="#444" textLength="10.20" lengthAdjust="spacingAndGlyphs">100</text>
<text x="67.60" y="369.82" font-size="7" fill="#444" textLength="3.40" lengthAdjust="spacingAndGlyphs">0</text>
<text x="86.10" y="369.82" font-size="7" fill="#444" textLength="10.20" lengthAdjust="spacingAndGlyphs">500</text>
<text x="106.30" y="369.82" font-size="7" fill="#444" textLength="13.60" lengthAdjust="spacingAndGlyphs">1000</text>
<text x="128.20" y="369.82" font-size="7" fill="#444" textLength="13.60" lengthAdjust="spacingAndGlyphs">1500</text>
<text x="150.10" y="369.82" font-size="7" fill="#444" textLength="13.60" lengthAdjust="spacingAndGlyphs">2000</text>
<text x="172.00" y="369.82" font-size="7" fill="#444" textLength="13.60" lengthAdjust="spacingAndGlyphs">2500</text>
<text x="182.50" y="375.16" font-size="4.8999999999999995" font-weight="normal" fill="#444" text-anchor="middle">(万人)</text>
<text x="267.50" y="266.86" font-size="6" font-weight="normal" fill="#333" text-anchor="end">0</text>
<text x="267.50" y="255.23" font-size="6" font-weight="normal" fill="#333" text-anchor="end">10</text>
<text x="267.50" y="243.60" font-size="6" font-weight="normal" fill="#333" text-anchor="end">20</text>
<text x="267.50" y="231.97" font-size="6" font-weight="normal" fill="#333" text-anchor="end">30</text>
<text x="267.50" y="220.34" font-size="6" font-weight="normal" fill="#333" text-anchor="end">40</text>
<text x="267.50" y="208.71" font-size="6" font-weight="normal" fill="#333" text-anchor="end">50</text>
<text x="267.50" y="197.08" font-size="6" font-weight="normal" fill="#333" text-anchor="end">60</text>
<text x="267.50" y="185.45" font-size="6" font-weight="normal" fill="#333" text-anchor="end">70</text>
<text x="267.50" y="173.82" font-size="6" font-weight="normal" fill="#333" text-anchor="end">80</text>
<text x="267.50" y="162.19" font-size="6" font-weight="normal" fill="#333" text-anchor="end">90</text>
<text x="267.50" y="150.56" font-size="6" font-weight="normal" fill="#333" text-anchor="end">100</text>
<text x="275.10" y="273.46" font-size="6" font-weight="normal" fill="#333" text-anchor="middle">0</text>
<text x="298.95" y="273.46" font-size="6" font-weight="normal" fill="#333" text-anchor="middle">500</text>
<text x="322.80" y="273.46" font-size="6" font-weight="normal" fill="#333" text-anchor="middle">1000</text>
<text x="346.65" y="273.46" font-size="6" font-weight="normal" fill="#333" text-anchor="middle">1500</text>
<text x="370.50" y="273.46" font-size="6" font-weight="normal" fill="#333" text-anchor="middle">2000</text>
<text x="394.35" y="273.46" font-size="6" font-weight="normal" fill="#333" text-anchor="middle">2500</text>
<text x="395.00" y="277.01" font-size="4.199999999999999" font-weight="normal" fill="#333" text-anchor="middle">(万人)</text>
<text x="270.80" y="399.76" font-size="6" font-weight="normal" fill="#333" text-anchor="end">0</text>
<text x="270.80" y="388.19" font-size="6" font-weight="normal" fill="#333" text-anchor="end">10</text>
<text x="270.80" y="376.62" font-size="6" font-weight="normal" fill="#333" text-anchor="end">20</text>
<text x="270.80" y="365.05" font-size="6" font-weight="normal" fill="#333" text-anchor="end">30</text>
<text x="270.80" y="353.48" font-size="6" font-weight="normal" fill="#333" text-anchor="end">40</text>
<text x="270.80" y="341.91" font-size="6" font-weight="normal" fill="#333" text-anchor="end">50</text>
<text x="270.80" y="330.34" font-size="6" font-weight="normal" fill="#333" text-anchor="end">60</text>
<text x="270.80" y="318.77" font-size="6" font-weight="normal" fill="#333" text-anchor="end">70</text>
<text x="270.80" y="307.20" font-size="6" font-weight="normal" fill="#333" text-anchor="end">80</text>
<text x="270.80" y="295.63" font-size="6" font-weight="normal" fill="#333" text-anchor="end">90</text>
<text x="270.80" y="284.06" font-size="6" font-weight="normal" fill="#333" text-anchor="end">100</text>
<text x="278.75" y="406.56" font-size="6" font-weight="normal" fill="#333" text-anchor="middle">0</text>
<text x="301.75" y="406.56" font-size="6" font-weight="normal" fill="#333" text-anchor="middle">500</text>
<text x="324.75" y="406.56" font-size="6" font-weight="normal" fill="#333" text-anchor="middle">1000</text>
<text x="347.75" y="406.56" font-size="6" font-weight="normal" fill="#333" text-anchor="middle">1500</text>
<text x="370.75" y="406.56" font-size="6" font-weight="normal" fill="#333" text-anchor="middle">2000</text>
<text x="393.75" y="406.56" font-size="6" font-weight="normal" fill="#333" text-anchor="middle">2500</text>
<text x="409.40" y="406.22" font-size="5.6" font-weight="normal" fill="#333" text-anchor="middle">(万人)</text>
<text x="445.00" y="266.06" font-size="6" font-weight="normal" fill="#333" text-anchor="end">0</text>
<text x="445.00" y="254.51" font-size="6" font-weight="normal" fill="#333" text-anchor="end">10</text>
<text x="445.00" y="242.96" font-size="6" font-weight="normal" fill="#333" text-anchor="end">20</text>
<text x="445.00" y="231.41" font-size="6" font-weight="normal" fill="#333" text-anchor="end">30</text>
<text x="445.00" y="219.86" font-size="6" font-weight="normal" fill="#333" text-anchor="end">40</text>
<text x="445.00" y="208.31" font-size="6" font-weight="normal" fill="#333" text-anchor="end">50</text>
<text x="445.00" y="196.76" font-size="6" font-weight="normal" fill="#333" text-anchor="end">60</text>
<text x="445.00" y="185.21" font-size="6" font-weight="normal" fill="#333" text-anchor="end">70</text>
<text x="445.00" y="173.66" font-size="6" font-weight="normal" fill="#333" text-anchor="end">80</text>
<text x="445.00" y="162.11" font-size="6" font-weight="normal" fill="#333" text-anchor="end">90</text>
<text x="445.00" y="150.56" font-size="6" font-weight="normal" fill="#333" text-anchor="end">100</text>
<text x="453.00" y="272.66" font-size="6" font-weight="normal" fill="#333" text-anchor="middle">0</text>
<text x="475.95" y="272.66" font-size="6" font-weight="normal" fill="#333" text-anchor="middle">500</text>
<text x="498.90" y="272.66" font-size="6" font-weight="normal" fill="#333" text-anchor="middle">1000</text>
<text x="521.85" y="272.66" font-size="6" font-weight="normal" fill="#333" text-anchor="middle">1500</text>
<text x="544.80" y="272.66" font-size="6" font-weight="normal" fill="#333" text-anchor="middle">2000</text>
<text x="567.75" y="272.66" font-size="6" font-weight="normal" fill="#333" text-anchor="middle">2500</text>
<text x="581.90" y="272.22" font-size="5.6" font-weight="normal" fill="#333" text-anchor="middle">(万人)</text>
<text x="445.00" y="400.16" font-size="6" font-weight="normal" fill="#333" text-anchor="end">0</text>
<text x="445.00" y="388.53" font-size="6" font-weight="normal" fill="#333" text-anchor="end">10</text>
<text x="445.00" y="376.90" font-size="6" font-weight="normal" fill="#333" text-anchor="end">20</text>
<text x="445.00" y="365.27" font-size="6" font-weight="normal" fill="#333" text-anchor="end">30</text>
<text x="445.00" y="353.64" font-size="6" font-weight="normal" fill="#333" text-anchor="end">40</text>
<text x="445.00" y="342.01" font-size="6" font-weight="normal" fill="#333" text-anchor="end">50</text>
<text x="445.00" y="330.38" font-size="6" font-weight="normal" fill="#333" text-anchor="end">60</text>
<text x="445.00" y="318.75" font-size="6" font-weight="normal" fill="#333" text-anchor="end">70</text>
<text x="445.00" y="307.12" font-size="6" font-weight="normal" fill="#333" text-anchor="end">80</text>
<text x="445.00" y="295.49" font-size="6" font-weight="normal" fill="#333" text-anchor="end">90</text>
<text x="445.00" y="283.86" font-size="6" font-weight="normal" fill="#333" text-anchor="end">100</text>
<text x="452.50" y="406.66" font-size="6" font-weight="normal" fill="#333" text-anchor="middle">0</text>
<text x="475.50" y="406.66" font-size="6" font-weight="normal" fill="#333" text-anchor="middle">500</text>
<text x="498.50" y="406.66" font-size="6" font-weight="normal" fill="#333" text-anchor="middle">1000</text>
<text x="521.50" y="406.66" font-size="6" font-weight="normal" fill="#333" text-anchor="middle">1500</text>
<text x="544.50" y="406.66" font-size="6" font-weight="normal" fill="#333" text-anchor="middle">2000</text>
<text x="567.50" y="406.66" font-size="6" font-weight="normal" fill="#333" text-anchor="middle">2500</text>
<text x="585.00" y="405.02" font-size="5.6" font-weight="normal" fill="#333" text-anchor="middle">(万人)</text>
<rect x="70" y="266.8" width="53.6" height="25.5" fill="#fff"/>
<rect x="274.7" y="195.7" width="58.1" height="18.1" fill="#fff"/>
<rect x="278.4" y="330.5" width="55.7" height="17.4" fill="#fff"/>
<text x="102.90" y="191.93" font-size="7.3" font-weight="normal" fill="#222" textLength="23.70" lengthAdjust="spacing">75歳～</text>
<text x="94.30" y="200.92" font-size="7.0" font-weight="normal" fill="#222" textLength="41.30" lengthAdjust="spacing">1,419  11.1%</text>
<text x="149.70" y="230.93" font-size="7.3" font-weight="normal" fill="#222" textLength="35.90" lengthAdjust="spacing">65～74歳</text>
<text x="147.00" y="239.72" font-size="7.0" font-weight="normal" fill="#222" textLength="41.20" lengthAdjust="spacing">1,529  11.9%</text>
<text x="79.30" y="276.63" font-size="7.3" font-weight="normal" fill="#222" textLength="35.90" lengthAdjust="spacing">20～64歳</text>
<text x="75.80" y="286.02" font-size="7.0" font-weight="normal" fill="#222" textLength="41.80" lengthAdjust="spacing">7,564  59.1%</text>
<text x="135.90" y="333.33" font-size="7.3" font-weight="normal" fill="#222" textLength="24.70" lengthAdjust="spacing">～19歳</text>
<text x="127.00" y="342.52" font-size="7.0" font-weight="normal" fill="#222" textLength="42.00" lengthAdjust="spacing">2,293  17.9%</text>
<text x="309.50" y="150.34" font-size="6.5" font-weight="normal" fill="#111" textLength="25.80" lengthAdjust="spacing" stroke="#111" stroke-width="0.1">75歳～</text>
<text x="300.90" y="156.74" font-size="6.5" font-weight="normal" fill="#111" textLength="43.00" lengthAdjust="spacing" stroke="#111" stroke-width="0.1">2269  18.7%</text>
<text x="362.00" y="178.74" font-size="6.5" font-weight="normal" fill="#111" textLength="36.60" lengthAdjust="spacing" stroke="#111" stroke-width="0.1">65～74歳</text>
<text x="359.40" y="185.34" font-size="6.5" font-weight="normal" fill="#111" textLength="41.80" lengthAdjust="spacing" stroke="#111" stroke-width="0.1">1,413  11.7%</text>
<text x="285.60" y="202.84" font-size="6.5" font-weight="normal" fill="#111" textLength="37.60" lengthAdjust="spacing" stroke="#111" stroke-width="0.1">20～64歳</text>
<text x="281.00" y="209.24" font-size="6.5" font-weight="normal" fill="#111" textLength="45.00" lengthAdjust="spacing" stroke="#111" stroke-width="0.1">6,245  51.6%</text>
<text x="338.80" y="249.04" font-size="6.5" font-weight="normal" fill="#111" textLength="26.60" lengthAdjust="spacing" stroke="#111" stroke-width="0.1">～19歳</text>
<text x="330.60" y="256.44" font-size="6.5" font-weight="normal" fill="#111" textLength="44.00" lengthAdjust="spacing" stroke="#111" stroke-width="0.1">2,176  18.0%</text>
<text x="311.70" y="285.04" font-size="6.5" font-weight="normal" fill="#111" textLength="21.10" lengthAdjust="spacing" stroke="#111" stroke-width="0.1">75歳～</text>
<text x="303.90" y="291.24" font-size="6.5" font-weight="normal" fill="#111" textLength="40.60" lengthAdjust="spacing" stroke="#111" stroke-width="0.1">2278  19.5%</text>
<text x="363.10" y="316.64" font-size="6.5" font-weight="normal" fill="#111" textLength="37.20" lengthAdjust="spacing" stroke="#111" stroke-width="0.1">65～74歳</text>
<text x="360.10" y="323.44" font-size="6.5" font-weight="normal" fill="#111" textLength="43.20" lengthAdjust="spacing" stroke="#111" stroke-width="0.1">1,407  12.1%</text>
<text x="288.60" y="337.94" font-size="6.5" font-weight="normal" fill="#111" textLength="36.20" lengthAdjust="spacing" stroke="#111" stroke-width="0.1">20～64歳</text>
<text x="284.60" y="344.34" font-size="6.5" font-weight="normal" fill="#111" textLength="43.40" lengthAdjust="spacing" stroke="#111" stroke-width="0.1">6,278  53.8%</text>
<text x="335.20" y="386.14" font-size="6.5" font-weight="normal" fill="#111" textLength="23.30" lengthAdjust="spacing" stroke="#111" stroke-width="0.1">～19歳</text>
<text x="326.40" y="392.54" font-size="6.5" font-weight="normal" fill="#111" textLength="42.50" lengthAdjust="spacing" stroke="#111" stroke-width="0.1">1,698  14.6%</text>
<text x="508.75" y="151.74" font-size="6.5" font-weight="normal" fill="#111" textLength="25.75" lengthAdjust="spacing" stroke="#111" stroke-width="0.1">75歳～</text>
<text x="500.20" y="157.64" font-size="6.5" font-weight="normal" fill="#111" textLength="43.70" lengthAdjust="spacing" stroke="#111" stroke-width="0.1">2,351  22.3%</text>
<text x="517.30" y="179.84" font-size="6.5" font-weight="normal" fill="#111" textLength="36.70" lengthAdjust="spacing" stroke="#111" stroke-width="0.1">65～74歳</text>
<text x="515.00" y="186.54" font-size="6.5" font-weight="normal" fill="#111" textLength="42.20" lengthAdjust="spacing" stroke="#111" stroke-width="0.1">1,132  10.7%</text>
<text x="515.00" y="207.04" font-size="6.5" font-weight="normal" fill="#111" textLength="36.70" lengthAdjust="spacing" stroke="#111" stroke-width="0.1">20～64歳</text>
<text x="511.90" y="213.24" font-size="6.5" font-weight="normal" fill="#111" textLength="42.90" lengthAdjust="spacing" stroke="#111" stroke-width="0.1">4,881  46.3%</text>
<text x="517.30" y="249.34" font-size="6.5" font-weight="normal" fill="#111" textLength="25.80" lengthAdjust="spacing" stroke="#111" stroke-width="0.1">～19歳</text>
<text x="508.00" y="255.94" font-size="6.5" font-weight="normal" fill="#111" textLength="42.90" lengthAdjust="spacing" stroke="#111" stroke-width="0.1">2,181  20.7%</text>
<text x="511.10" y="284.54" font-size="6.5" font-weight="normal" fill="#111" textLength="25.00" lengthAdjust="spacing" stroke="#111" stroke-width="0.1">75歳～</text>
<text x="501.70" y="290.74" font-size="6.5" font-weight="normal" fill="#111" textLength="43.80" lengthAdjust="spacing" stroke="#111" stroke-width="0.1">2,336  26.9%</text>
<text x="525.20" y="314.24" font-size="6.5" font-weight="normal" fill="#111" textLength="37.50" lengthAdjust="spacing" stroke="#111" stroke-width="0.1">65～74歳</text>
<text x="522.00" y="320.04" font-size="6.5" font-weight="normal" fill="#111" textLength="43.80" lengthAdjust="spacing" stroke="#111" stroke-width="0.1">1,128  13.0%</text>
<text x="514.20" y="346.74" font-size="6.5" font-weight="normal" fill="#111" textLength="36.70" lengthAdjust="spacing" stroke="#111" stroke-width="0.1">20～64歳</text>
<text x="511.10" y="352.94" font-size="6.5" font-weight="normal" fill="#111" textLength="42.90" lengthAdjust="spacing" stroke="#111" stroke-width="0.1">4,105  47.3%</text>
<text x="505.60" y="383.14" font-size="6.5" font-weight="normal" fill="#111" textLength="25.80" lengthAdjust="spacing" stroke="#111" stroke-width="0.1">～19歳</text>
<text x="497.00" y="388.94" font-size="6.5" font-weight="normal" fill="#111" textLength="43.00" lengthAdjust="spacing" stroke="#111" stroke-width="0.1">1,104  12.7%</text>
<rect x="180.2" y="193.7" width="51.7" height="22" fill="#fff" stroke="#d46a6a" stroke-width="0.9"/>
<text x="187.70" y="203.02" font-size="7.0" font-weight="normal" fill="#e02020" textLength="36.90" lengthAdjust="spacing" stroke="#e02020" stroke-width="0.2">出生率回復</text>
<text x="195.60" y="212.32" font-size="7.0" font-weight="normal" fill="#e02020" textLength="20.80" lengthAdjust="spacing" stroke="#e02020" stroke-width="0.2">ケース</text>
<rect x="178.8" y="319.7" width="42.4" height="15.5" fill="#fff" stroke="#b4aecf" stroke-width="1"/>
<text x="184.50" y="329.50" font-size="7.5" font-weight="normal" fill="#7446a6" textLength="30.50" lengthAdjust="spacing" stroke="#7446a6" stroke-width="0.25">現状継続</text>
<line x1="193.20" y1="263.90" x2="255.72" y2="197.23" stroke="#000" stroke-width="1.8"/><polyline points="254.24,204.07 256.40,196.50 248.99,199.14" fill="none" stroke="#000" stroke-width="1.8" stroke-linejoin="miter"/>
<line x1="193.80" y1="282.80" x2="246.85" y2="345.24" stroke="#000" stroke-width="1.8"/><polyline points="240.22,343.00 247.50,346.00 245.71,338.33" fill="none" stroke="#000" stroke-width="1.8" stroke-linejoin="miter"/>
<line x1="403.10" y1="201.90" x2="429.00" y2="201.90" stroke="#000" stroke-width="1.8"/><polyline points="423.00,205.50 430.00,201.90 423.00,198.30" fill="none" stroke="#000" stroke-width="1.8" stroke-linejoin="miter"/>
<line x1="403.00" y1="335.25" x2="428.50" y2="335.25" stroke="#000" stroke-width="1.8"/><polyline points="422.50,338.85 429.50,335.25 422.50,331.65" fill="none" stroke="#000" stroke-width="1.8" stroke-linejoin="miter"/>
<path d="M547.3,121.7 H594.2 V173.1 H547.3 V164.8 L531.3,168.3 L547.3,152.7 Z" fill="#fff" stroke="#222" stroke-width="1"/>
<text x="550.40" y="131.60" font-size="7.5" font-weight="normal" fill="#000" textLength="38.40" lengthAdjust="spacing" stroke="#000" stroke-width="0.25">年齢階層別</text>
<text x="550.40" y="140.65" font-size="7.5" font-weight="normal" fill="#000" textLength="38.40" lengthAdjust="spacing" stroke="#000" stroke-width="0.25">割合と年齢</text>
<text x="550.40" y="149.70" font-size="7.5" font-weight="normal" fill="#000" textLength="38.40" lengthAdjust="spacing" stroke="#000" stroke-width="0.25">階層数がほ</text>
<text x="550.40" y="158.75" font-size="7.5" font-weight="normal" fill="#000" textLength="38.40" lengthAdjust="spacing" stroke="#000" stroke-width="0.25">ぼ一致し、</text>
<text x="550.40" y="167.80" font-size="7.5" font-weight="normal" fill="#000" textLength="38.40" lengthAdjust="spacing" stroke="#000" stroke-width="0.25">不均衡解消</text>
<rect x="571.8" y="409.3" width="21.4" height="19.3" fill="#fff" stroke="#444" stroke-width="1"/>
<text x="530.85" y="421.2" font-size="21" font-weight="bold" fill="#767676" stroke="#767676" stroke-width="1.3" stroke-linejoin="round" opacity="0.92" textLength="12.40" lengthAdjust="spacingAndGlyphs">R</text>
<text x="543.95" y="421.2" font-size="21" font-weight="bold" fill="#767676" stroke="#767676" stroke-width="1.3" stroke-linejoin="round" opacity="0.92" textLength="31.90" lengthAdjust="spacingAndGlyphs" transform="translate(0,421.2) scale(1,1.17) translate(0,-421.2)">ese</text>
<text x="576.35" y="421.2" font-size="22.5" font-weight="bold" fill="#767676" stroke="#767676" stroke-width="1.3" stroke-linejoin="round" opacity="0.92" textLength="16.70" lengthAdjust="spacingAndGlyphs">M</text>
<text x="595.25" y="421.2" font-size="21" font-weight="bold" fill="#767676" stroke="#767676" stroke-width="1.3" stroke-linejoin="round" opacity="0.92" textLength="27.90" lengthAdjust="spacingAndGlyphs" transform="translate(0,421.2) scale(1,1.17) translate(0,-421.2)">om</text>
<circle cx="626.4" cy="419.8" r="1.5" fill="#767676"/>
<text x="582.40" y="423.96" font-size="11" font-weight="bold" fill="#000" text-anchor="middle">6</text>
<text x="608.20" y="404.97" font-size="3.8" font-weight="normal" fill="#777" textLength="15.40" lengthAdjust="spacing">リセマム</text>
</svg>
</body></html>
